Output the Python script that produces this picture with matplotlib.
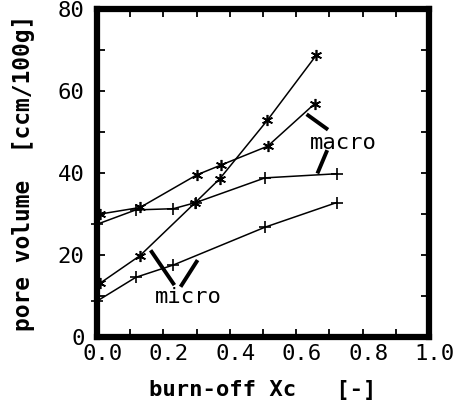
import numpy as np
import matplotlib.pyplot as plt
from matplotlib.ticker import MultipleLocator
from matplotlib.transforms import ScaledTranslation

# burn-off vs pore volume
x_star_a = [0.01, 0.13, 0.295, 0.37, 0.513, 0.66]
y_star_a = [13.2, 19.9, 32.7, 38.6, 52.8, 68.6]

x_star_b = [0.01, 0.13, 0.30, 0.373, 0.514, 0.655]
y_star_b = [30.0, 31.6, 39.5, 41.9, 46.5, 56.8]

x_plus_a = [0.0, 0.117, 0.23, 0.298, 0.506, 0.722]
y_plus_a = [27.5, 31.0, 31.3, 32.8, 38.8, 39.8]

x_plus_b = [0.0, 0.117, 0.23, 0.506, 0.722]
y_plus_b = [8.8, 14.6, 17.6, 26.8, 32.8]

xticks = [0.0, 0.2, 0.4, 0.6, 0.8, 1.0]
xticklabels = ['0.0', '0.2', '0.4', '0.6', '0.8', '1.0']
yticks = [0, 20, 40, 60, 80]

mono = 'DejaVu Sans Mono'
star = (6, 2, 0)

fig = plt.figure(figsize=(4.57, 4.05), dpi=100)
ax = fig.add_axes([0.212, 0.167, 0.727, 0.812])

kw = dict(color='black', lw=1.1, clip_on=False)
ax.plot(x_star_a, y_star_a, marker=star, ms=8, mew=1.2, **kw)
ax.plot(x_star_b, y_star_b, marker=star, ms=8, mew=1.2, **kw)
ax.plot(x_plus_a, y_plus_a, marker='+', ms=8, mew=1.2, **kw)
ax.plot(x_plus_b, y_plus_b, marker='+', ms=8, mew=1.2, **kw)

# labels with leader strokes
ax.text(0.741, 47.2, 'macro', family=mono, fontsize=16, ha='center', va='center')
ax.plot([0.636, 0.691], [54.0, 50.8], color='black', lw=2.8)
ax.plot([0.691, 0.666], [45.1, 40.3], color='black', lw=2.8)

ax.text(0.275, 9.9, 'micro', family=mono, fontsize=16, ha='center', va='center')
ax.plot([0.165, 0.23], [20.8, 13.1], color='black', lw=2.8)
ax.plot([0.30, 0.255], [18.4, 12.7], color='black', lw=2.8)

ax.set_xlim(0, 1.0)
ax.set_ylim(0, 80)
ax.set_xticks(xticks)
ax.set_xticklabels(xticklabels)
ax.set_yticks(yticks)
ax.xaxis.set_minor_locator(MultipleLocator(0.1))
ax.yaxis.set_minor_locator(MultipleLocator(10))
ax.tick_params(which='both', direction='in', top=True, right=True,
               length=6, width=1.3, labelsize=16)
ax.tick_params(axis='x', pad=5)
ax.tick_params(axis='y', pad=9)
shift = ScaledTranslation(4 / 72, 0, fig.dpi_scale_trans)
for lab in ax.get_xticklabels():
    lab.set_family(mono)
    lab.set_transform(lab.get_transform() + shift)
for lab in ax.get_yticklabels():
    lab.set_family(mono)

for s in ax.spines.values():
    s.set_linewidth(4.5)

ax.set_xlabel('burn-off Xc   [-]', family=mono, fontweight='bold', fontsize=16)
ax.set_ylabel('pore volume  [ccm/100g]', family=mono, fontweight='bold', fontsize=16.5)
ax.xaxis.set_label_coords(0.5, -0.13)
ax.yaxis.set_label_coords(-0.187, 0.5)

fig.savefig('out.png', dpi=100)
